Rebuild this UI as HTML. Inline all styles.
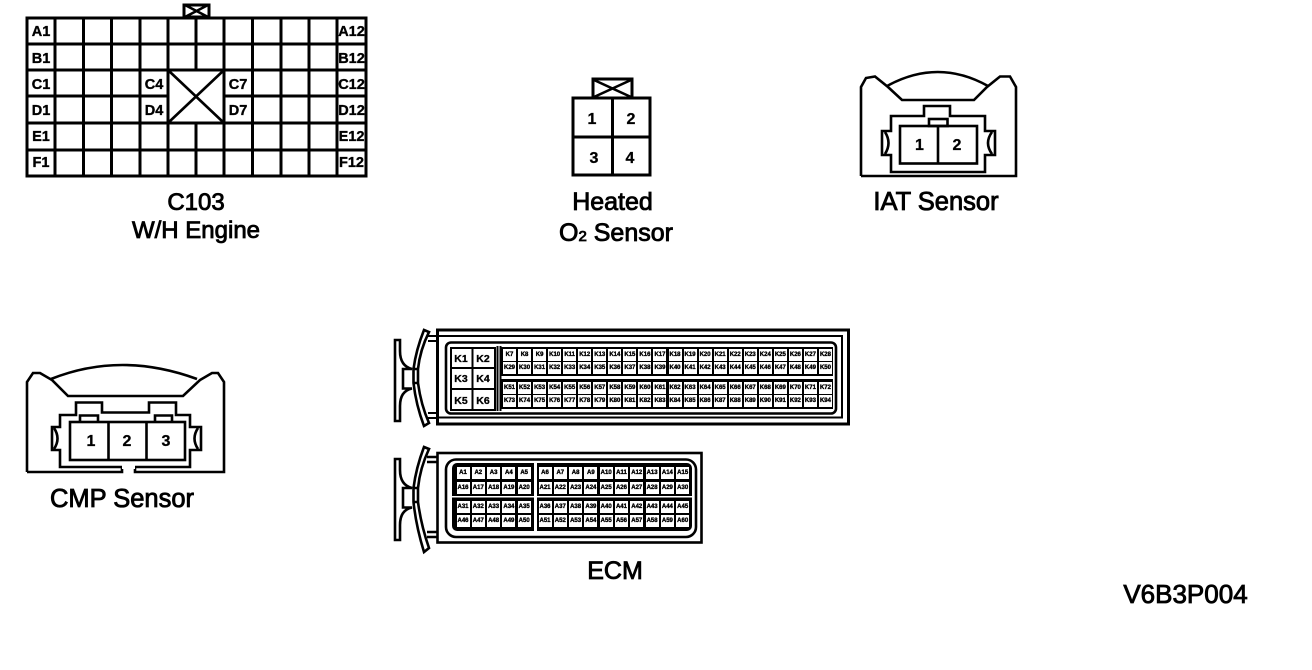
<!DOCTYPE html>
<html><head><meta charset="utf-8"><style>
html,body{margin:0;padding:0;background:#fff;width:1312px;height:670px;overflow:hidden}
svg{position:absolute;left:0;top:0}
text{font-family:"Liberation Sans",sans-serif;fill:#000}
.t{font-size:24px;stroke:#000;stroke-width:.85;text-anchor:middle}
.c{font-size:14.500px;font-weight:bold;text-anchor:middle;stroke:#000;stroke-width:.35}
.n{font-size:16px;font-weight:bold;text-anchor:middle;stroke:#000;stroke-width:.3}
.k{font-size:10.5px;font-weight:bold;text-anchor:middle;stroke:#000;stroke-width:.3}
.l{fill:none;stroke:#000;stroke-width:2.6}
.g{position:absolute;display:grid;font:bold 6px/12px "Liberation Sans",sans-serif;color:#000;text-align:center;-webkit-text-stroke:.35px #000}
.g b{background:#fff;height:12px;display:block;overflow:hidden;white-space:nowrap}
.kk{grid-template-columns:repeat(22,13px);column-gap:2.05px;row-gap:1px}
.e{grid-auto-rows:12px;column-gap:2.3px}
.e5{grid-template-columns:repeat(5,13px)}
.e10{grid-template-columns:repeat(10,13px)}
</style></head><body>
<svg width="1312" height="670" viewBox="0 0 1312 670" xmlns="http://www.w3.org/2000/svg">
<!-- C103 -->
<g class="l" shape-rendering="crispEdges">
<rect x="27" y="18" width="339" height="158" stroke-width="3"/>
<path d="M55 18V176M83.500 18V176M111.500 18V176M140 18V176M168 18V70M168 123V176M196 18V70M196 123V176M224 18V176M252.500 18V176M281 18V176M309 18V176M337 18V176"/>
<path d="M27 44H366M27 70H366M27 96H168M224 96H366M27 123H366M27 150H366"/>
<path d="M168 70V123M224 70V123"/>
<rect x="184" y="5" width="25" height="12"/>
</g>
<path d="M185 5L208 17M208 5L185 17M169 71L223 122M223 71L169 122" class="l" stroke-width="2"/>
<text class="c" x="41" y="36">A1</text><text class="c" x="41" y="63">B1</text><text class="c" x="41" y="89">C1</text><text class="c" x="41" y="115">D1</text><text class="c" x="41" y="141">E1</text><text class="c" x="41" y="167">F1</text>
<text class="c" x="351.500" y="36">A12</text><text class="c" x="351.500" y="63">B12</text><text class="c" x="351.500" y="89">C12</text><text class="c" x="351.500" y="115">D12</text><text class="c" x="351.500" y="141">E12</text><text class="c" x="351.500" y="167">F12</text>
<text class="c" x="154" y="89">C4</text><text class="c" x="154" y="115">D4</text><text class="c" x="238" y="89">C7</text><text class="c" x="238" y="115">D7</text>
<text class="t" x="196" y="210">C103</text><text class="t" x="196" y="238">W/H Engine</text>
<!-- Heated O2 -->
<g class="l" shape-rendering="crispEdges">
<rect x="573" y="98" width="77" height="77" stroke-width="3"/>
<path d="M612.500 98V175M573 137H650"/>
<rect x="593" y="79" width="39" height="19"/>
</g>
<path d="M594 80L631 97M631 80L594 97" class="l" stroke-width="2.200"/>
<text class="n" x="592" y="124">1</text><text class="n" x="631" y="124">2</text><text class="n" x="594" y="163">3</text><text class="n" x="630" y="163">4</text>
<text class="t" x="612.500" y="210" style="font-size:25px">Heated</text>
<text class="t" x="616" y="241" style="font-size:25px">O<tspan style="font-size:15px">2</tspan> Sensor</text>
<!-- IAT -->
<path class="l" d="M861 176V87L866 78L875 76.500L888 87L902 100H974L987 87L1000 76.500L1010 76.500L1016 87V176H861"/>
<path class="l" d="M887 86Q938 58 988 86"/>
<path class="l" stroke-width="3" d="M924 106H950V116H985V131H995V155H985V172H891V155H882V131H891V116H924Z"/>
<rect class="l" x="900" y="126" width="77" height="37.500" stroke-width="3"/>
<rect class="l" x="929" y="119" width="18.500" height="7" stroke-width="2.200"/>
<path class="l" d="M938 126V164M885 132Q892 143 885 154M992 132Q984 143 992 154" stroke-width="2"/>
<text class="n" x="919.500" y="150">1</text><text class="n" x="957" y="150">2</text>
<text class="t" x="936" y="210" style="font-size:25.500px">IAT Sensor</text>
<!-- CMP -->
<path class="l" d="M27 472V382L33 373H40L52 380L68 396H183L200 380L212 373H218L224 382V472H135V467M122 467V472H27"/>
<path class="l" d="M51 379Q121 351 197 379"/>
<path class="l" stroke-width="3" d="M76 402.500H102V412.500H149V402.500H176V415H190V427H201V450H190V467H60V450H52V427H60V415H76Z"/>
<path d="M122 465H135V469H122Z" fill="#fff"/>
<rect class="l" x="70" y="422" width="115" height="38" stroke-width="3"/>
<path class="l" stroke-width="2" d="M80 421V415.500H98V421M155 421V415.500H172V421M108.500 422V461M146.500 422V461M54 428Q61 438.500 54 449M198 428Q191 438.500 198 449"/>
<text class="n" x="91" y="446">1</text><text class="n" x="127" y="446">2</text><text class="n" x="166" y="446">3</text>
<text class="t" x="122" y="507" style="font-size:25.500px">CMP Sensor</text>
<!-- K connector -->
<g class="l" shape-rendering="crispEdges">
<path d="M428 336H437M428 341H437M428 413H437M428 418H437" stroke-width="2"/>
<rect x="437.500" y="330" width="411" height="94" fill="#fff" stroke-width="3"/>
<path d="M438 336H842V417.500H438" stroke-width="2.200"/>
</g>
<rect class="l" x="446" y="342.500" width="390" height="71" rx="5" stroke-width="2.400"/>
<g class="l" shape-rendering="crispEdges">
<rect x="451" y="348" width="44" height="62" stroke-width="2"/>
<path d="M472.500 347V410M451 368H495M451 389H495M497.500 346V411M500.500 346V411" stroke-width="2"/>
</g>
<rect x="501.500" y="347" width="331.500" height="29" fill="#000"/>
<rect x="501.500" y="379" width="331.500" height="30" fill="#000"/>
<text class="k" x="461" y="362">K1</text><text class="k" x="483" y="362">K2</text><text class="k" x="461" y="382">K3</text><text class="k" x="483" y="382">K4</text><text class="k" x="461" y="404">K5</text><text class="k" x="483" y="404">K6</text>
<path class="l" stroke-width="2.500" d="M400 340H395V421H400V406Q400 391 412 388.500H403V369H412Q400 366 400 351ZM424 330L429 332Q420 350 418 369V383Q421 405 429 423L424 426Q416 405 413.500 383V369Q416 350 424 330ZM413 369H418M413 383H418"/>
<!-- ECM -->
<path class="l" stroke-width="2" d="M427 457H437M427 462H437M427 532H437M427 537H437"/>
<rect class="l" x="437.500" y="453" width="264" height="89.500" stroke-width="2.800" fill="#fff"/>
<rect class="l" x="446" y="459.500" width="250" height="77.500" rx="10" stroke-width="2.800"/>
<rect x="452" y="463" width="240" height="68" rx="5" fill="#000"/>
<rect x="534" y="462" width="3" height="70" fill="#fff"/>
<rect x="452" y="496" width="240" height="1.500" fill="#fff"/>
<path class="l" stroke-width="2.500" d="M400 459H395V540H400V525Q400 510 412 507.500H403V488H412Q400 485 400 470ZM424 447L429 449Q420 468 418 488V502Q421 525 429 548L424 552Q416 526 413.500 502V488Q416 468 424 447ZM413 488H418M413 502H418"/>
<text class="t" x="615" y="579" style="font-size:25px">ECM</text>
<text class="t" x="1185.500" y="603" style="font-size:26px">V6B3P004</text>
</svg>
<div class="g kk" style="left:503px;top:349px"><b>K7</b><b>K8</b><b>K9</b><b>K10</b><b>K11</b><b>K12</b><b>K13</b><b>K14</b><b>K15</b><b>K16</b><b>K17</b><b>K18</b><b>K19</b><b>K20</b><b>K21</b><b>K22</b><b>K23</b><b>K24</b><b>K25</b><b>K26</b><b>K27</b><b>K28</b><b>K29</b><b>K30</b><b>K31</b><b>K32</b><b>K33</b><b>K34</b><b>K35</b><b>K36</b><b>K37</b><b>K38</b><b>K39</b><b>K40</b><b>K41</b><b>K42</b><b>K43</b><b>K44</b><b>K45</b><b>K46</b><b>K47</b><b>K48</b><b>K49</b><b>K50</b></div>
<div class="g kk" style="left:503px;top:381.500px"><b>K51</b><b>K52</b><b>K53</b><b>K54</b><b>K55</b><b>K56</b><b>K57</b><b>K58</b><b>K59</b><b>K60</b><b>K61</b><b>K62</b><b>K63</b><b>K64</b><b>K65</b><b>K66</b><b>K67</b><b>K68</b><b>K69</b><b>K70</b><b>K71</b><b>K72</b><b>K73</b><b>K74</b><b>K75</b><b>K76</b><b>K77</b><b>K78</b><b>K79</b><b>K80</b><b>K81</b><b>K82</b><b>K83</b><b>K84</b><b>K85</b><b>K86</b><b>K87</b><b>K88</b><b>K89</b><b>K90</b><b>K91</b><b>K92</b><b>K93</b><b>K94</b></div>
<div class="g e e5" style="left:456.500px;top:467px;row-gap:3px"><b>A1</b><b>A2</b><b>A3</b><b>A4</b><b>A5</b><b>A16</b><b>A17</b><b>A18</b><b>A19</b><b>A20</b></div>
<div class="g e e10" style="left:538.500px;top:467px;row-gap:3px"><b>A6</b><b>A7</b><b>A8</b><b>A9</b><b>A10</b><b>A11</b><b>A12</b><b>A13</b><b>A14</b><b>A15</b><b>A21</b><b>A22</b><b>A23</b><b>A24</b><b>A25</b><b>A26</b><b>A27</b><b>A28</b><b>A29</b><b>A30</b></div>
<div class="g e e5" style="left:456.500px;top:501px;row-gap:2px"><b>A31</b><b>A32</b><b>A33</b><b>A34</b><b>A35</b><b>A46</b><b>A47</b><b>A48</b><b>A49</b><b>A50</b></div>
<div class="g e e10" style="left:538.500px;top:501px;row-gap:2px"><b>A36</b><b>A37</b><b>A38</b><b>A39</b><b>A40</b><b>A41</b><b>A42</b><b>A43</b><b>A44</b><b>A45</b><b>A51</b><b>A52</b><b>A53</b><b>A54</b><b>A55</b><b>A56</b><b>A57</b><b>A58</b><b>A59</b><b>A60</b></div>
</body></html>
